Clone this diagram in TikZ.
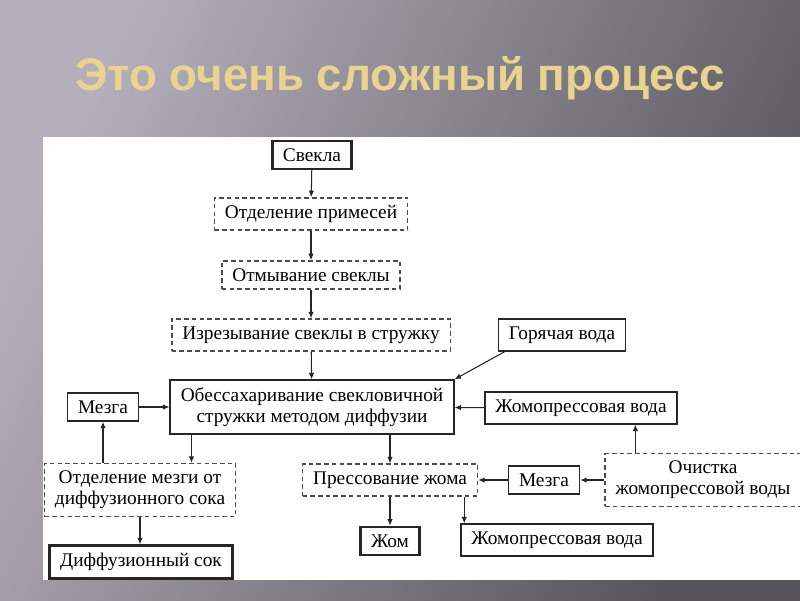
\documentclass[tikz,border=0pt]{standalone}
\usepackage{fontspec}
\setmainfont{Liberation Serif}
\newfontfamily\titlefont{Liberation Sans}
\usetikzlibrary{arrows.meta,positioning}
\definecolor{titlegold}{RGB}{232,212,142}
\definecolor{bgleft}{RGB}{180,175,187}
\definecolor{bgmid}{RGB}{124,120,130}
\definecolor{bgright}{RGB}{86,83,90}

\begin{document}
\begin{tikzpicture}[x=0.02cm,y=-0.02cm,font=\fontsize{11}{11.8}\selectfont,>={Latex[length=1.3mm,width=1.1mm]},box/.style={draw=black!85, line width=0.85pt, align=center, inner xsep=6pt, inner ysep=4.3pt},thickbox/.style={box, line width=1.5pt},dashbox/.style={box, draw=black!70, dash pattern=on 2.6pt off 1.8pt},arrow/.style={->, line width=0.6pt, black!85}]
\useasboundingbox (0,0) rectangle (800,600);
\shade[left color=bgleft, middle color=bgmid, right color=bgright, shading angle=65] (0,0) rectangle (800,600);
\fill[white] (43,137) rectangle (800,580);
\node[font=\titlefont\bfseries\fontsize{26}{30}\selectfont, text=titlegold] (title) at (400,78) {Это очень сложный процесс};
% main line
\node[thickbox] (beet) at (312,155) {Свекла};
\node[dashbox] (clean) at (311,214) {Отделение примесей};
\node[dashbox] (wash) at (311,275) {Отмывание свеклы};
\node[dashbox] (cut) at (311,335) {Изрезывание свеклы в стружку};
\node[box] (hot) at (562,335) {Горячая вода};
\node[box] (diff) at (312,407) {Обессахаривание свекловичной\\стружки методом диффузии};
\node[box] (pwater) at (581,408) {Жомопрессовая вода};
% left branch
\node[box] (pulpL) at (103,407) {Мезга};
\node[dashbox] (sep) at (140,490) {Отделение мезги от\\диффузионного сока};
\node[thickbox] (juice) at (141,562) {Диффузионный сок};
% right branch
\node[dashbox] (press) at (390,480) {Прессование жома};
\node[box] (pulpR) at (544,480) {Мезга};
\node[dashbox] (purify) at (703,480) {Очистка\\жомопрессовой воды};
\node[thickbox] (pulp) at (390,541) {Жом};
\node[box] (pwater2) at (557,540) {Жомопрессовая вода};
\draw[arrow] (beet) -- (clean);\draw[arrow] (clean) -- (wash);\draw[arrow] (wash) -- (cut);\draw[arrow] (cut) -- (diff);
\draw[arrow] ([xshift=0.14cm]hot.south west) -- (diff.north east);
\draw[arrow] (pwater) -- (diff);\draw[arrow] (pulpL) -- (diff);
\draw[arrow] (pulpL |- sep.north) -- (pulpL);
\draw[arrow] ([xshift=0.44cm]diff.south west) -- ([xshift=0.44cm]diff.south west |- sep.north);
\draw[arrow] (sep.south) -- (sep.south |- juice.north);
\draw[arrow] (press |- diff.south) -- (press);
\draw[arrow] (pulpR) -- (press);\draw[arrow] (purify) -- (pulpR);
\draw[arrow] ([xshift=0.62cm]purify.north west) -- ([xshift=0.62cm]purify.north west |- pwater.south);
\draw[arrow] (pulp |- press.south) -- (pulp);
\draw[arrow] ([xshift=-0.28cm]press.south east) -- ([xshift=-0.28cm]press.south east |- pwater2.north);
\end{tikzpicture}
\end{document}
